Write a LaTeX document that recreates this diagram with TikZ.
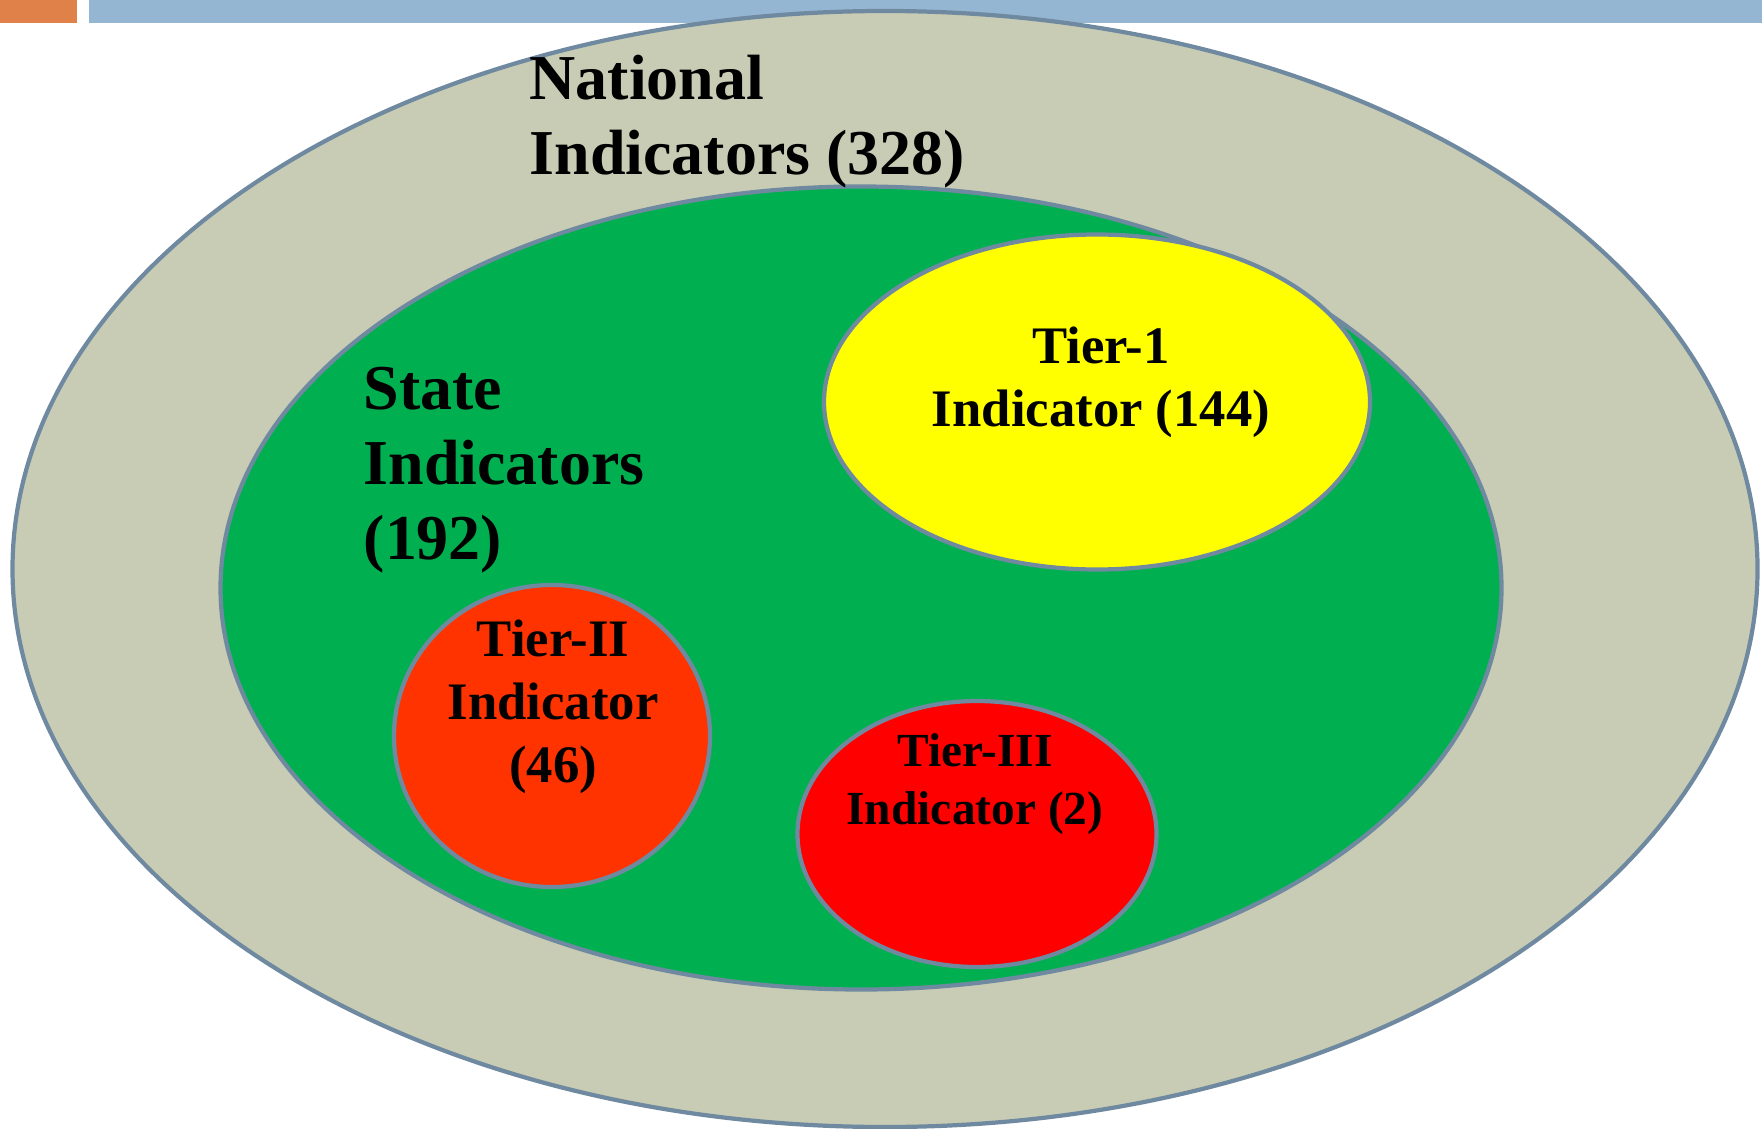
\documentclass[tikz,border=0pt]{standalone}
\usepackage{fontspec}
\setmainfont{Liberation Serif}
\usetikzlibrary{shapes.geometric}
\definecolor{natfill}{RGB}{201,204,180}
\definecolor{edge}{RGB}{111,138,160}
\definecolor{statefill}{RGB}{0,176,80}
\definecolor{tierone}{RGB}{255,255,0}
\definecolor{tiertwo}{RGB}{255,51,0}
\definecolor{tierthree}{RGB}{255,0,0}
\definecolor{barorange}{RGB}{223,129,72}
\definecolor{barblue}{RGB}{149,182,211}
\begin{document}
\begin{tikzpicture}[region/.style={ellipse,draw=edge,line width=1.2pt,inner sep=0pt},
  biglbl/.style={align=left,font=\bfseries\fontsize{18.2}{21.4}\selectfont},
  tierlbl/.style={align=center,font=\bfseries\fontsize{15}{18}\selectfont}]
\useasboundingbox (0,0) rectangle (17.62,11.28);
\fill[barorange] (0,11.05) rectangle (0.77,11.28);
\fill[barblue] (0.89,11.05) rectangle (17.62,11.28);
\node[region,fill=natfill,minimum width=17.45cm,minimum height=11.16cm] (national) at (8.85, 5.59) {};
\node[region,fill=statefill,minimum width=12.81cm,minimum height=8.03cm] (state) at (8.61, 5.40) {};
\node[region,fill=tierone,minimum width=5.46cm,minimum height=3.35cm] (t1) at (10.97, 7.26) {};
\node[region,fill=tiertwo,minimum width=3.16cm,minimum height=3.02cm] (t2) at (5.52, 3.92) {};
\node[region,fill=tierthree,minimum width=3.59cm,minimum height=2.66cm] (t3) at (9.77, 2.94) {};
\node[biglbl,anchor=west,inner sep=0pt] (natlbl) at (5.29, 10.06) {National\\Indicators (328)};
\node[biglbl,anchor=west,inner sep=0pt] (statelbl) at (3.63, 6.58) {State\\Indicators\\(192)};
\node[tierlbl] (t1lbl) at (11.01, 7.46) {Tier-1\\Indicator (144)};
\node[tierlbl] (t2lbl) at (5.53, 4.21) {Tier-II\\Indicator\\(46)};
\node[tierlbl,font=\bfseries\fontsize{13.5}{16.5}\selectfont] (t3lbl) at (9.75, 3.44) {Tier-III\\Indicator (2)};
\end{tikzpicture}
\end{document}
